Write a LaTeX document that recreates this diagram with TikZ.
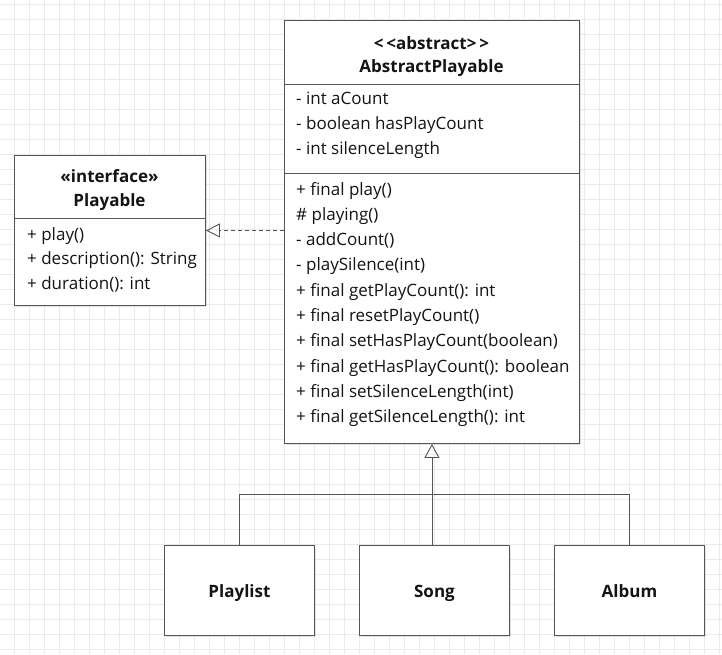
\documentclass[tikz,border=0pt]{standalone}
\usepackage{fontspec}
\setmainfont{Open Sans}
\usetikzlibrary{arrows.meta,shadows}

\definecolor{gradeclara}{HTML}{EAEAEA}
\definecolor{contorno}{HTML}{555555}
\definecolor{texto}{HTML}{141414}
\newcommand{\umlfont}{\fontsize{17}{20}\selectfont}

\begin{document}
\begin{tikzpicture}[x=1pt,y=-1pt]

  % ── Styles ────────────────────────────────────────────────
  \tikzset{
    classbox/.style = {draw=contorno, line width=0.9pt, fill=white, inner sep=0pt, anchor=north west,
      drop shadow={shadow xshift=2pt, shadow yshift=-2pt, opacity=0.22}},
    member/.style = {anchor=base west, inner sep=0pt, text=texto, font=\umlfont},
    classname/.style = {anchor=base, inner sep=0pt, text=texto, font=\umlfont\bfseries},
    leafbox/.style = {classbox, minimum width=150pt, minimum height=90pt,
      text height=14pt, text depth=0pt, font=\umlfont\bfseries, text=texto},
    realizes/.style = {draw=contorno, line width=0.9pt, dash pattern=on 4pt off 3pt,
      -{Triangle[open, length=14pt, width=14pt]}},
    inherits/.style = {draw=contorno, line width=0.9pt, -{Triangle[open, length=14pt, width=15pt]}},
    branch/.style = {draw=contorno, line width=0.9pt}
  }

  \useasboundingbox (0,0) rectangle (722,654);
  \fill[white] (0,0) rectangle (722,654);

  % background grid
  \begin{scope}[y=1pt, shift={(14pt,-4pt)}]
    \draw[gradeclara, line width=0.9pt, step=15pt] (-14,-650) grid (708,4);
  \end{scope}

  % =========================================================
  % 1. INTERFACE Playable
  % =========================================================
  \node[classbox, minimum width=191pt, minimum height=150pt] (playable) at (14,155) {};
  \draw[branch] ([yshift=-63pt]playable.north west) -- ([yshift=-63pt]playable.north east);
  \node[classname] (playable-st) at (109.5,182) {«interface»};
  \node[classname] (playable-nm) at (109.5,206) {Playable};
  \foreach \m [count=\i from 0] in {+ play(), + description(): String, + duration(): int}
    \node[member] (pm\i) at (27,{240+24.5*\i}) {\m};

  % =========================================================
  % 2. ABSTRACT CLASS AbstractPlayable
  % =========================================================
  \node[classbox, minimum width=295pt, minimum height=423pt] (abstract) at (284,20) {};
  \draw[branch] ([yshift=-64pt]abstract.north west) -- ([yshift=-64pt]abstract.north east);
  \draw[branch] ([yshift=-153pt]abstract.north west) -- ([yshift=-153pt]abstract.north east);
  \node[classname] (abstract-st) at (431.5,49) {<\,<abstract>\,>};
  \node[classname] (abstract-nm) at (431.5,72) {AbstractPlayable};

  % attributes
  \foreach \m [count=\i from 0] in {- int aCount, - boolean hasPlayCount, - int silenceLength}
    \node[member] (aa\i) at (296,{104+25*\i}) {\m};

  % methods
  \foreach \m [count=\i from 0] in {+ final play(), \# playing(), - addCount(), - playSilence(int),
      + final getPlayCount(): int, + final resetPlayCount(), + final setHasPlayCount(boolean),
      + final getHasPlayCount(): boolean, + final setSilenceLength(int),
      + final getSilenceLength(): int}
    \node[member] (am\i) at (296,{195+25.3*\i}) {\m};

  % =========================================================
  % 3. SUBCLASSES
  % =========================================================
  \node[leafbox] (playlist) at (164,545) {Playlist};
  \node[leafbox] (song) at (359,545) {Song};
  \node[leafbox] (album) at (554,545) {Album};

  % ── Connectors ────────────────────────────────────────────
  \coordinate (bar) at (0,494);
  \draw[realizes] (abstract.west |- playable.east) -- (playable.east);
  \draw[inherits] (abstract.south |- song.north) -- (abstract.south);
  \draw[branch] (playlist.north) -- (playlist.north |- bar) -- (album.north |- bar) -- (album.north);

\end{tikzpicture}
\end{document}
